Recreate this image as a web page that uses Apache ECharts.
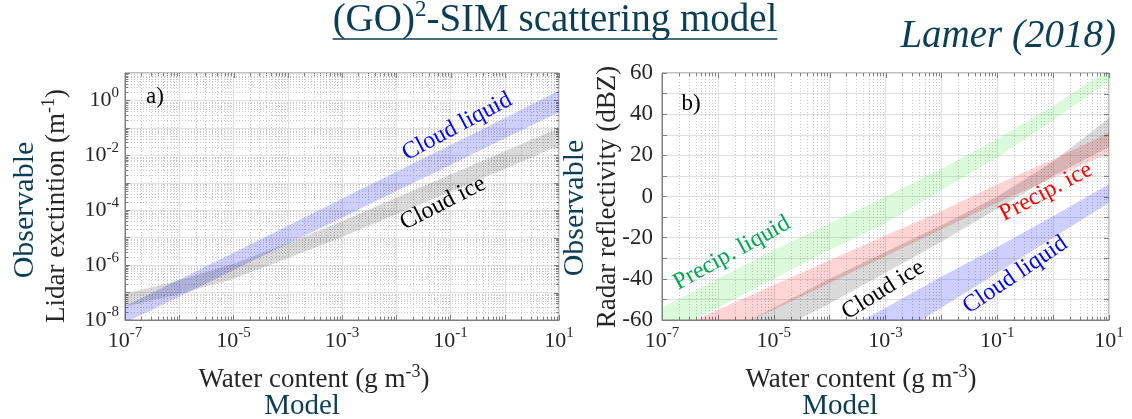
<!DOCTYPE html>
<html>
<head>
<meta charset="utf-8">
<script src="https://cdn.jsdelivr.net/npm/echarts@6/dist/echarts.min.js"></script>
<style>
  html, body { margin: 0; padding: 0; background: #ffffff; }
  #c { width: 1132px; height: 419px; }
</style>
</head>
<body>
<div id="c"></div>
<script>
// Water content sample points, log10(g m^-3)
const xExp = [-7, -6, -5, -4, -3, -2, -1, 0, 1];

// a) Lidar extinction bands, log10(m^-1)
const extLiqLo = [-8.10, -7.15, -6.18, -5.22, -4.27, -3.30, -2.35, -1.38, -0.43];
const extLiqHi = [-7.50, -6.52, -5.55, -4.57, -3.58, -2.60, -1.62, -0.64, 0.36];
const extIceLo = [-7.52, -7.05, -6.50, -5.75, -4.98, -4.15, -3.33, -2.50, -1.65];
const extIceHi = [-7.05, -6.55, -5.95, -5.20, -4.40, -3.55, -2.70, -1.85, -1.00];

// b) Radar reflectivity bands, dBZ
const dbzRainLo = [-68, -54, -40, -26, -13, 3, 19, 37, 56];
const dbzRainHi = [-54, -40, -26, -13, 0, 13.5, 28, 44, 62];
const dbzSnowLo = [-80, -67, -55, -42, -29, -16, -3, 9, 21];
const dbzSnowHi = [-67, -55, -43, -31, -19, -7, 6, 18, 31];
const dbzIceLo = [-100, -82, -66, -52, -37, -22, -6, 10, 24];
const dbzIceHi = [-84, -68, -54, -40, -27, -14, 0, 17, 38];
const dbzLiqLo = [-138, -121, -104, -88, -71, -54, -37, -20, -3];
const dbzLiqHi = [-114, -99, -84, -69, -54, -39, -24.5, -9.5, 6];

// Axis ranges and tick labels
const xRange = [1e-7, 1e1];
const extRange = [1e-8, 1e1];
const dbzRange = [-60, 60];
const dbzStep = 10;
const dbzLabels = [-60, -40, -20, 0, 20, 40, 60];

const SERIF = '"Liberation Serif", "Times New Roman", serif';
const INK = '#262626';
const TEAL = '#0b3d55';
const FRAME = '#7f7f7f';

const chart = echarts.init(document.getElementById('c'));
const pow10 = a => a.map(v => Math.pow(10, v));
const xVals = pow10(xExp);

// Translucent band between a lower and an upper edge, drawn as one polygon
function band(name, idx, lo, hi, fill) {
  const data = xVals.map((x, i) => [x, lo[i], hi[i]]);
  return {
    type: 'custom', name, xAxisIndex: idx, yAxisIndex: idx,
    clip: true, silent: true, z: 3, animation: false,
    data, encode: { x: 0, y: [1, 2] },
    renderItem(params, api) {
      if (params.dataIndex !== 0) return null;
      const top = data.map(d => api.coord([d[0], d[2]]));
      const bot = data.map(d => api.coord([d[0], d[1]])).reverse();
      return { type: 'polygon', shape: { points: top.concat(bot) }, style: { fill } };
    }
  };
}

// decade and 2..9 x 10^e positions of a log axis
function decades(e0, e1) {
  const out = [];
  for (let e = e0; e <= e1; e++) out.push(Math.pow(10, e));
  return out;
}
function logMinors(e0, e1) {
  const out = [];
  for (let e = e0; e < e1; e++) for (let k = 2; k <= 9; k++) out.push(k * Math.pow(10, e));
  return out;
}
function steps(a, b, s) {
  const out = [];
  for (let v = a; v <= b; v += s) out.push(v);
  return out;
}

// Dotted minor grid plus inside ticks on all four sides of the box
function boxDecor(idx, yExt, xMajor, xMinor, yMajor, yMinor) {
  return {
    type: 'custom', xAxisIndex: idx, yAxisIndex: idx, silent: true, z: 1, animation: false,
    data: [[xRange[0], yExt[0]]],
    renderItem(params, api) {
      const snap = v => Math.round(v) + 0.5;
      const pLo = api.coord([xRange[0], yExt[0]]);
      const pHi = api.coord([xRange[1], yExt[1]]);
      const xl = pLo[0], xr = pHi[0], yb = pLo[1], yt = pHi[1];
      const dot = { stroke: '#c9c9c9', lineWidth: 1, lineDash: [1, 2] };
      const tick = { stroke: FRAME, lineWidth: 1 };
      const kids = [];
      const vline = (x, y1, y2, st) => kids.push({ type: 'line', shape: { x1: x, y1, x2: x, y2 }, style: st });
      const hline = (y, x1, x2, st) => kids.push({ type: 'line', shape: { x1, y1: y, x2, y2: y }, style: st });
      xMinor.forEach(v => {
        const x = snap(api.coord([v, yExt[0]])[0]);
        vline(x, yt, yb, dot); vline(x, yb, yb - 3, tick); vline(x, yt, yt + 3, tick);
      });
      xMajor.forEach(v => {
        const x = snap(api.coord([v, yExt[0]])[0]);
        vline(x, yt, yt + 5, tick);
      });
      yMinor.forEach(v => {
        const y = snap(api.coord([xRange[0], v])[1]);
        hline(y, xl, xr, dot); hline(y, xl, xl + 3, tick); hline(y, xr, xr - 3, tick);
      });
      yMajor.forEach(v => {
        const y = snap(api.coord([xRange[0], v])[1]);
        hline(y, xr, xr - 5, tick);
      });
      return { type: 'group', children: kids };
    }
  };
}

const tickRich = {
  b: { fontFamily: SERIF, fontSize: 22, color: INK, lineHeight: 30 },
  s: { fontFamily: SERIF, fontSize: 15, color: INK, lineHeight: 14, verticalAlign: 'top' }
};
const powLabel = keepOdd => v => {
  const e = Math.round(Math.log10(v));
  const odd = Math.abs(e % 2) === 1;
  return odd === keepOdd ? '{b|10}{s|' + e + '}' : '';
};

const frame = { show: true, onZero: false, lineStyle: { color: FRAME, width: 1 } };
const ticks = { show: true, inside: true, length: 5, lineStyle: { color: FRAME } };
const major = { show: true, lineStyle: { color: '#e0e0e0', width: 1 } };

function xAxis(idx) {
  return {
    type: 'log', logBase: 10, gridIndex: idx, min: xRange[0], max: xRange[1],
    axisLine: frame, axisTick: ticks, splitLine: major,
    axisLabel: { margin: 6, showMinLabel: true, showMaxLabel: true, formatter: powLabel(true), rich: tickRich }
  };
}

chart.setOption({
  animation: false,
  backgroundColor: '#ffffff',
  grid: [
    { left: 125, top: 73, width: 434, height: 247, show: true, borderColor: FRAME, borderWidth: 1, backgroundColor: 'transparent' },
    { left: 662, top: 73, width: 447, height: 247, show: true, borderColor: FRAME, borderWidth: 1, backgroundColor: 'transparent' }
  ],
  xAxis: [xAxis(0), xAxis(1)],
  yAxis: [
    {
      type: 'log', logBase: 10, gridIndex: 0, min: extRange[0], max: extRange[1],
      axisLine: frame, axisTick: ticks, splitLine: major,
      axisLabel: { margin: 6, showMinLabel: true, showMaxLabel: true, formatter: powLabel(false), rich: tickRich }
    },
    {
      type: 'value', gridIndex: 1, min: dbzRange[0], max: dbzRange[1], interval: dbzStep,
      axisLine: frame, axisTick: ticks, splitLine: major,
      axisLabel: {
        margin: 9, fontFamily: SERIF, fontSize: 23, color: INK,
        formatter: v => (dbzLabels.indexOf(v) >= 0 ? String(v) : '')
      }
    }
  ],
  series: [
    boxDecor(0, extRange, decades(-7, 1), logMinors(-7, 1), decades(-8, 1), logMinors(-8, 1)),
    boxDecor(1, dbzRange, decades(-7, 1), logMinors(-7, 1), steps(dbzRange[0], dbzRange[1], dbzStep), []),
    band('Cloud liquid', 0, pow10(extLiqLo), pow10(extLiqHi), 'rgba(0,0,255,0.19)'),
    band('Cloud ice', 0, pow10(extIceLo), pow10(extIceHi), 'rgba(0,0,0,0.15)'),
    band('Precip. liquid', 1, dbzRainLo, dbzRainHi, 'rgba(0,220,0,0.14)'),
    band('Precip. ice', 1, dbzSnowLo, dbzSnowHi, 'rgba(255,0,0,0.17)'),
    band('Cloud ice', 1, dbzIceLo, dbzIceHi, 'rgba(0,0,0,0.15)'),
    band('Cloud liquid', 1, dbzLiqLo, dbzLiqHi, 'rgba(0,0,255,0.19)')
  ]
});

// ---- annotations ----
const ctx = document.createElement('canvas').getContext('2d');
function textW(str, size, style) {
  ctx.font = (style || '') + ' ' + size + 'px "Liberation Serif"';
  return ctx.measureText(str).width;
}

const richText = (size, fill, sup) => ({
  m: { fontFamily: SERIF, fontSize: size, fill, lineHeight: size + 6 },
  s: { fontFamily: SERIF, fontSize: sup, fill, lineHeight: sup, verticalAlign: 'top' }
});

const titleX = 555, titleY = 21;
const titleW = textW('(GO)', 39) + textW('2', 23) + textW('-SIM scattering model', 39);

// band names, anchored in data coordinates
const bandNames = [
  { text: 'Cloud liquid', grid: 0, at: [Math.pow(10, -0.88), Math.pow(10, -0.95)], color: '#0000ff', angle: 28 },
  { text: 'Cloud ice', grid: 0, at: [Math.pow(10, -1.14), Math.pow(10, -3.75)], color: '#000000', angle: 27 },
  { text: 'Precip. liquid', grid: 1, at: [Math.pow(10, -5.75), -27.5], color: '#00a550', angle: 29 },
  { text: 'Precip. ice', grid: 1, at: [Math.pow(10, -0.13), 2.2], color: '#ff0000', angle: 28 },
  { text: 'Cloud ice', grid: 1, at: [Math.pow(10, -3.04), -45.4], color: '#000000', angle: 32 },
  { text: 'Cloud liquid', grid: 1, at: [Math.pow(10, -0.68), -38.2], color: '#0000ff', angle: 34 }
];

const AX = 27, AXS = 18;

const graphics = [
  { type: 'text', x: titleX, y: titleY, z: 10,
    style: { text: '{m|(GO)}{s|2}{m|-SIM scattering model}', rich: richText(39, TEAL, 23), align: 'center', verticalAlign: 'middle' } },
  { type: 'line', z: 10, shape: { x1: titleX - titleW / 2, y1: 39, x2: titleX + titleW / 2, y2: 39 },
    style: { stroke: TEAL, lineWidth: 1.6 } },
  { type: 'text', x: 1116, y: 37, z: 10,
    style: { text: 'Lamer (2018)', fontFamily: SERIF, fontSize: 39, fontStyle: 'italic', fill: TEAL, align: 'right', verticalAlign: 'middle' } },

  // panel a) axis titles
  { type: 'text', x: 25, y: 210, rotation: Math.PI / 2, z: 10,
    style: { text: 'Observable', fontFamily: SERIF, fontSize: 30, fill: TEAL, align: 'center', verticalAlign: 'middle' } },
  { type: 'text', x: 57, y: 206, rotation: Math.PI / 2, z: 10,
    style: { text: '{m|Lidar exctintion (m}{s|-1}{m|)}', rich: richText(AX, INK, AXS), align: 'center', verticalAlign: 'middle' } },
  { type: 'text', x: 314, y: 380, z: 10,
    style: { text: '{m|Water content (g m}{s|-3}{m|)}', rich: richText(AX, INK, AXS), align: 'center', verticalAlign: 'middle' } },
  { type: 'text', x: 302, y: 406, z: 10,
    style: { text: 'Model', fontFamily: SERIF, fontSize: 29, fill: TEAL, align: 'center', verticalAlign: 'middle' } },
  { type: 'text', x: 155, y: 97, z: 10,
    style: { text: 'a)', fontFamily: SERIF, fontSize: 23, fill: '#000', align: 'center', verticalAlign: 'middle' } },

  // panel b) axis titles
  { type: 'text', x: 575, y: 208, rotation: Math.PI / 2, z: 10,
    style: { text: 'Observable', fontFamily: SERIF, fontSize: 30, fill: TEAL, align: 'center', verticalAlign: 'middle' } },
  { type: 'text', x: 608, y: 197, rotation: Math.PI / 2, z: 10,
    style: { text: 'Radar reflectivity (dBZ)', fontFamily: SERIF, fontSize: AX, fill: INK, align: 'center', verticalAlign: 'middle' } },
  { type: 'text', x: 861, y: 380, z: 10,
    style: { text: '{m|Water content (g m}{s|-3}{m|)}', rich: richText(AX, INK, AXS), align: 'center', verticalAlign: 'middle' } },
  { type: 'text', x: 840, y: 406, z: 10,
    style: { text: 'Model', fontFamily: SERIF, fontSize: 29, fill: TEAL, align: 'center', verticalAlign: 'middle' } },
  { type: 'text', x: 691, y: 104, z: 10,
    style: { text: 'b)', fontFamily: SERIF, fontSize: 23, fill: '#000', align: 'center', verticalAlign: 'middle' } }
];

bandNames.forEach(b => {
  const p = chart.convertToPixel({ gridIndex: b.grid }, b.at);
  graphics.push({
    type: 'text', x: p[0], y: p[1], rotation: b.angle * Math.PI / 180, z: 10,
    style: { text: b.text, fontFamily: SERIF, fontSize: 24, fill: b.color, align: 'center', verticalAlign: 'middle' }
  });
});

chart.setOption({ graphic: graphics });
</script>
</body>
</html>
